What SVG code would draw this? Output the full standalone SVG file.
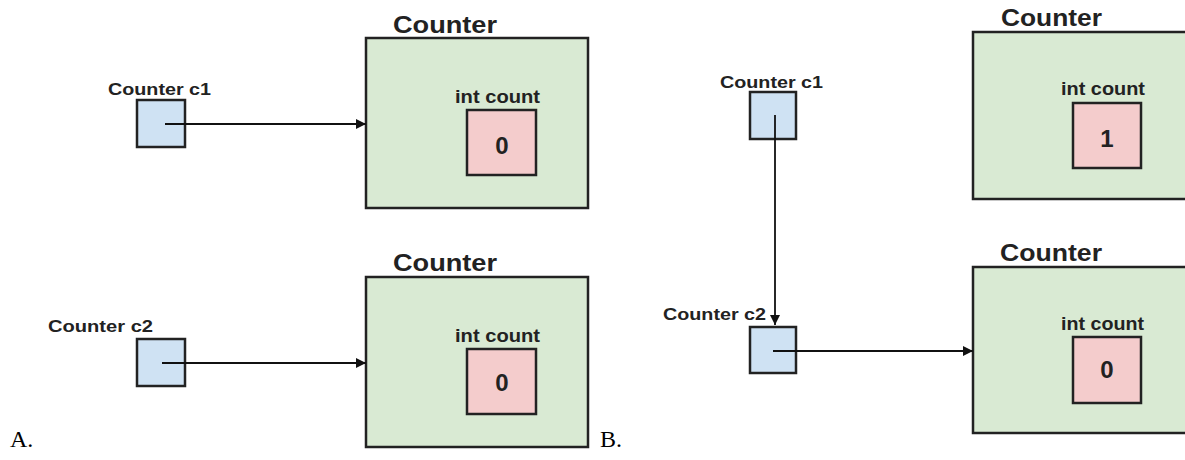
<svg xmlns="http://www.w3.org/2000/svg" width="1185" height="460" viewBox="0 0 1185 460">
<style>
.obj{fill:#d9ead3;stroke:#222;stroke-width:2.5}
.ref{fill:#cfe2f3;stroke:#222;stroke-width:2.5}
.val{fill:#f4cccc;stroke:#222;stroke-width:2.5}
.t{font-family:"Liberation Sans",Arial,sans-serif;font-weight:bold;fill:#222}
.title{font-size:24px}
.lbl{font-size:17px}
.ic{font-size:18px}
.num{font-size:24px;text-anchor:middle}
.cap{font-family:"Liberation Serif","Times New Roman",serif;font-size:24px;fill:#000}
.conn{stroke:#111;stroke-width:1.8;fill:none;marker-end:url(#ah)}
</style>
<defs>
<marker id="ah" viewBox="0 0 10 10" refX="10" refY="5" markerWidth="13" markerHeight="10" markerUnits="userSpaceOnUse" orient="auto">
<path d="M0,0 L10,5 L0,10 z" fill="#111"/>
</marker>
</defs>
<rect width="1185" height="460" fill="#fff"/>

<g id="a-obj1">
<text class="t title" x="393" y="33" textLength="104" lengthAdjust="spacingAndGlyphs">Counter</text>
<rect class="obj" x="366" y="38" width="222" height="170"/>
<text class="t ic" x="455" y="103" textLength="85" lengthAdjust="spacingAndGlyphs">int count</text>
<rect class="val" x="467" y="110" width="69" height="65"/>
<text class="t num" x="502" y="154">0</text>
</g>
<g id="a-c1">
<text class="t lbl" x="108" y="95" textLength="103" lengthAdjust="spacingAndGlyphs">Counter c1</text>
<rect class="ref" x="137" y="100" width="48" height="47"/>
</g>
<g id="a-obj2">
<text class="t title" x="393" y="271" textLength="104" lengthAdjust="spacingAndGlyphs">Counter</text>
<rect class="obj" x="366" y="277" width="222" height="170"/>
<text class="t ic" x="455" y="342" textLength="85" lengthAdjust="spacingAndGlyphs">int count</text>
<rect class="val" x="467" y="349" width="69" height="65"/>
<text class="t num" x="502" y="391">0</text>
</g>
<g id="a-c2">
<text class="t lbl" x="48" y="332" textLength="105" lengthAdjust="spacingAndGlyphs">Counter c2</text>
<rect class="ref" x="137" y="339" width="48" height="47"/>
</g>
<text class="cap" x="10" y="447">A.</text>

<g id="b-c1">
<text class="t lbl" x="720" y="88" textLength="103" lengthAdjust="spacingAndGlyphs">Counter c1</text>
<rect class="ref" x="750" y="92" width="46" height="47"/>
</g>
<g id="b-obj1">
<text class="t title" x="1001" y="26" textLength="101" lengthAdjust="spacingAndGlyphs">Counter</text>
<rect class="obj" x="973" y="32" width="220" height="167"/>
<text class="t ic" x="1061" y="95" textLength="84" lengthAdjust="spacingAndGlyphs">int count</text>
<rect class="val" x="1073" y="103" width="68" height="65"/>
<text class="t num" x="1107" y="147">1</text>
</g>
<g id="b-c2">
<text class="t lbl" x="663" y="320" textLength="103" lengthAdjust="spacingAndGlyphs">Counter c2</text>
<rect class="ref" x="750" y="327" width="46" height="46"/>
</g>
<g id="b-obj2">
<text class="t title" x="1000" y="261" textLength="102" lengthAdjust="spacingAndGlyphs">Counter</text>
<rect class="obj" x="973" y="267" width="220" height="166"/>
<text class="t ic" x="1061" y="330" textLength="83" lengthAdjust="spacingAndGlyphs">int count</text>
<rect class="val" x="1073" y="337" width="68" height="66"/>
<text class="t num" x="1107" y="378">0</text>
</g>
<text class="cap" x="600" y="447">B.</text>

<g id="connectors">
<line class="conn" x1="165" y1="124" x2="366" y2="124"/>
<line class="conn" x1="162" y1="363" x2="366" y2="363"/>
<line class="conn" x1="775" y1="115" x2="775" y2="325"/>
<line class="conn" x1="773" y1="351" x2="973" y2="351"/>
</g>
</svg>
